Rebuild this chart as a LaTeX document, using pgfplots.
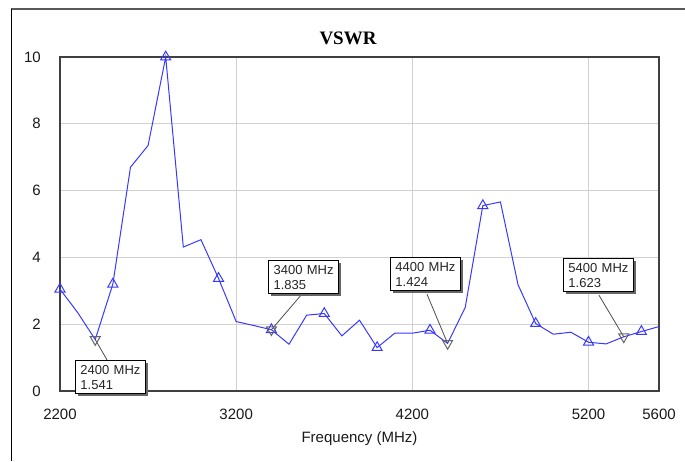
\documentclass[border=0pt]{standalone}
\usepackage{pgfplots}
\pgfplotsset{compat=1.18}
\usepackage{pgfplotstable}
\usepackage{fontspec}
\setmainfont{Liberation Sans}
\newfontfamily\titlefont{Liberation Serif}
\usetikzlibrary{shadows}
\definecolor{vswrblue}{RGB}{56,56,255}
\pgfplotstableread{
f v
2200 3.05
2300 2.35
2400 1.541
2500 3.2
2600 6.7
2700 7.35
2800 10.0
2900 4.31
3000 4.53
3100 3.37
3200 2.08
3300 1.96
3400 1.835
3500 1.4
3600 2.27
3700 2.32
3800 1.65
3900 2.12
4000 1.3
4100 1.73
4200 1.73
4300 1.82
4400 1.424
4500 2.5
4600 5.55
4700 5.66
4800 3.18
4900 2.02
5000 1.7
5100 1.76
5200 1.46
5300 1.41
5400 1.623
5500 1.78
5600 1.93
}\vswr
\pgfplotstableread{
f v
2200 3.05
2500 3.2
2800 10.0
3100 3.37
3400 1.835
3700 2.32
4000 1.3
4300 1.82
4600 5.55
4900 2.02
5200 1.46
5500 1.78
}\tri
\pgfplotstableread{
f v
2400 1.541
3400 1.835
4400 1.424
5400 1.623
}\mk
\begin{document}
\begin{tikzpicture}
\useasboundingbox (0,0) rectangle (685pt,461pt);
\draw[black!65, line width=2pt] (11pt,452pt) -- (685pt,452pt);
\draw[black, line width=1pt] (11pt,452pt) -- (11pt,0pt);
\begin{axis}[
  at={(60pt,70pt)}, anchor=south west, scale only axis,
  width=599pt, height=334pt,
  xmin=2200, xmax=5600, ymin=0, ymax=10,
  xtick={2200,3200,4200,5200,5600}, ytick={0,2,4,6,8,10},
  grid=major, major grid style={draw=black!18, line width=1pt},
  axis line style={draw=black!75, line width=1.6pt},
  major tick length=0pt,
  tick label style={font=\fontsize{15}{18}\selectfont, text=black!90},
  xticklabel style={anchor=north, inner sep=0pt, yshift=-18pt},
  yticklabel style={anchor=east, inner sep=0pt, xshift=-19pt},
  /pgf/number format/assume math mode=true,
  /pgf/number format/1000 sep={},
  xlabel={Frequency (MHz)},
  every axis x label/.style={at={(axis description cs:0.5,0)}, anchor=north, yshift=-40pt, inner sep=0pt, font=\fontsize{15}{18}\selectfont, text=black!90},
  clip=false,
]
\addplot[vswrblue, line width=1pt, mark=none] table[x=f,y=v] {\vswr};
\addplot[only marks, mark=triangle, mark size=5.8pt, mark options={draw=vswrblue, fill=white, line width=1pt}] table[x=f,y=v] {\tri};
\addplot[only marks, mark=triangle, mark size=5.8pt, mark options={draw=black!60, fill=none, line width=1pt, rotate=180}] table[x=f,y=v] {\mk};
\tikzset{ann/.style={draw=black, line width=1pt, fill=white, anchor=north west,
  text width=60pt, inner xsep=5pt, inner ysep=4.5pt, align=left,
  font=\fontsize{13}{15}\selectfont, text=black!85,
  drop shadow={shadow xshift=2.5pt, shadow yshift=-2.5pt, fill=black!60, opacity=1}}}
\draw[black!70, line width=0.8pt] (axis cs:2400,1.541) -- (axis cs:2467,0.93);
\draw[black!70, line width=0.8pt] (axis cs:3400,1.835) -- (axis cs:3568,2.87);
\draw[black!70, line width=0.8pt] (axis cs:4400,1.424) -- (axis cs:4283,2.90);
\draw[black!70, line width=0.8pt] (axis cs:5400,1.623) -- (axis cs:5259,2.87);
\node[ann] at (axis cs:2285,0.93) {2400 MHz\\1.541};
\node[ann] at (axis cs:3381,3.92) {3400 MHz\\1.835};
\node[ann] at (axis cs:4073,4.01) {4400 MHz\\1.424};
\node[ann] at (axis cs:5055,3.98) {5400 MHz\\1.623};
\end{axis}
\node[font=\titlefont\bfseries\fontsize{19}{22}\selectfont, anchor=base] at (348pt,416pt) {VSWR};
\end{tikzpicture}
\end{document}
